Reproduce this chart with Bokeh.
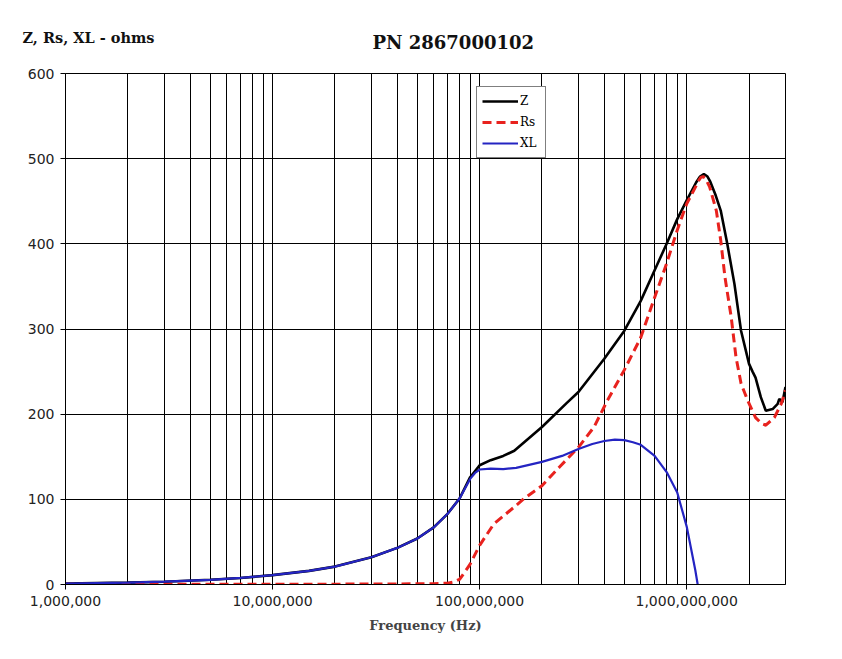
from bokeh.plotting import figure
from bokeh.models import (Range1d, FixedTicker, NumeralTickFormatter, Legend, LegendItem, Title,
                          InlineStyleSheet)
from bokeh.embed import file_html
from bokeh.resources import INLINE

# ---------------- data ----------------
title_text = "PN 2867000102"
y_title = "Z, Rs, XL - ohms"
x_title = "Frequency (Hz)"

x_major_ticks = [1e6, 1e7, 1e8, 1e9]
x_minor_ticks = [m * d for d in [1e6, 1e7, 1e8, 1e9] for m in range(2, 10) if m * d <= 3e9]
y_ticks = [0, 100, 200, 300, 400, 500, 600]

f_z = [1e6, 2e6, 3e6, 5e6, 7e6, 1e7, 1.5e7, 2e7, 3e7, 4e7, 5e7, 6e7, 7e7, 8e7, 9e7, 1e8,
       1.13e8, 1.3e8, 1.47e8, 2e8, 2.63e8, 3e8, 4e8, 5e8, 6e8, 7e8, 8e8, 9e8, 1e9, 1.11e9,
       1.16e9, 1.21e9, 1.26e9, 1.3e9, 1.38e9, 1.46e9, 1.57e9, 1.7e9, 1.83e9, 2e9, 2.08e9,
       2.15e9, 2.28e9, 2.41e9, 2.6e9, 2.75e9, 2.8e9, 2.9e9, 3e9]
z = [1.1, 2.2, 3.3, 5.5, 7.7, 11, 16, 21, 32, 43, 54, 67, 83, 101, 126, 140,
     146, 151, 157, 185, 213, 226, 265, 298, 333, 369, 400, 429, 451, 472,
     479, 482, 479, 473, 457, 439, 400, 353, 298, 259, 250,
     243, 220, 204, 206, 212, 218, 214, 232]

f_rs = [1e6, 3e6, 1e7, 3e7, 5e7, 6e7, 7e7, 7.5e7, 8e7, 8.5e7, 9e7, 1e8, 1.17e8, 1.47e8,
        1.64e8, 2e8, 2.43e8, 3e8, 3.57e8, 4.14e8, 5e8, 6e8, 7e8, 8e8, 9e8, 1e9, 1.11e9,
        1.14e9, 1.17e9, 1.2e9, 1.23e9, 1.29e9, 1.39e9, 1.46e9, 1.53e9, 1.64e9, 1.73e9,
        1.83e9, 1.97e9, 2.15e9, 2.3e9, 2.41e9, 2.65e9, 2.86e9, 3e9]
rs = [0.2, 0.2, 0.3, 0.5, 0.8, 1.0, 1.5, 3, 6, 15, 24, 46, 71, 91,
      101, 116, 138, 161, 185, 216, 252, 290, 337, 377, 416, 447, 468,
      474, 478, 479, 477, 467, 439, 404, 361, 314, 267,
      236, 216, 196, 189, 187, 196, 212, 228]

f_xl = [1e6, 2e6, 3e6, 5e6, 7e6, 1e7, 1.5e7, 2e7, 3e7, 4e7, 5e7, 6e7, 7e7, 8e7, 9e7, 9.5e7,
        1e8, 1.13e8, 1.3e8, 1.5e8, 2e8, 2.5e8, 3e8, 3.5e8, 4e8, 4.5e8, 5e8, 5.5e8, 6e8,
        7e8, 8e8, 9e8, 1e9, 1.05e9, 1.1e9, 1.13e9]
xl = [1.1, 2.2, 3.3, 5.5, 7.7, 11, 16, 21, 32, 43, 54, 67, 83, 101, 124, 131,
      135, 136, 135.5, 137, 144, 151, 159, 165, 168.5, 170, 169.5, 167, 164,
      151, 132, 108, 68, 42, 17, 0]

# ---------------- figure ----------------
SERIF = "DejaVu Serif"
SANS = "DejaVu Sans"

p = figure(width=834, height=651, x_axis_type="log",
           x_range=Range1d(1e6, 3e9), y_range=Range1d(0, 600),
           output_backend="svg", toolbar_location=None,
           min_border_left=65, min_border_right=49, min_border_top=73, min_border_bottom=67)
p.border_fill_color = "white"
p.background_fill_color = "white"
p.outline_line_color = "black"
p.outline_line_width = 1
p.stylesheets = [InlineStyleSheet(css=":host { outline: 1.5px solid #666666; outline-offset: -7px; }")]

# outer title: the y-axis caption, left aligned beyond the frame edge
p.title.text = y_title
p.title.align = "left"
p.title.offset = -43
p.title.text_font = SERIF
p.title.text_font_style = "bold"
p.title.text_font_size = "14.5px"
p.title.text_color = "#111111"
p.title.standoff = -75

# inner title: chart name
p.add_layout(Title(text=title_text, align="left", offset=307, standoff=42,
                   text_font=SERIF, text_font_style="bold", text_font_size="18px",
                   text_color="#111111"), "above")

# axes
p.xaxis.ticker = FixedTicker(ticks=x_major_ticks, minor_ticks=x_minor_ticks)
p.xaxis.formatter = NumeralTickFormatter(format="0,0")
p.yaxis.ticker = FixedTicker(ticks=y_ticks)
for ax in (p.xaxis[0], p.yaxis[0]):
    ax.axis_line_color = "black"
    ax.major_tick_line_color = "black"
    ax.major_tick_out = 5
    ax.major_tick_in = 0
    ax.minor_tick_line_color = None
    ax.major_label_text_font = SANS
    ax.major_label_text_font_size = "14px"
    ax.major_label_text_color = "#222222"
p.xaxis.major_label_standoff = 6
p.yaxis.major_label_standoff = 6
p.xaxis.axis_label = x_title
p.xaxis.axis_label_text_font = SERIF
p.xaxis.axis_label_text_font_style = "bold"
p.xaxis.axis_label_text_font_size = "13px"
p.xaxis.axis_label_standoff = 9

# grids
p.xgrid.grid_line_color = "black"
p.xgrid.minor_grid_line_color = "black"
p.ygrid.grid_line_color = "black"
p.xgrid.grid_line_width = 1
p.ygrid.grid_line_width = 1

# lines
rz = p.line(f_z, z, line_color="black", line_width=2.6)
rr = p.line(f_rs, rs, line_color="#e8221e", line_width=3, line_dash="9 5")
rx = p.line(f_xl, xl, line_color="#2424c2", line_width=2.2)

legend = Legend(items=[LegendItem(label="Z", renderers=[rz]),
                       LegendItem(label="Rs", renderers=[rr]),
                       LegendItem(label="XL", renderers=[rx])],
                location=(411, 426))
legend.label_text_font = SERIF
legend.label_text_font_size = "12px"
legend.label_text_color = "black"
legend.glyph_width = 36
legend.glyph_height = 18
legend.label_height = 18
legend.label_standoff = 2
legend.spacing = 3
legend.padding = 5
legend.margin = 0
legend.border_line_color = "black"
legend.border_line_width = 1
legend.background_fill_color = "white"
legend.background_fill_alpha = 1
p.add_layout(legend, "center")

open("out.html", "w").write(file_html(p, INLINE))
